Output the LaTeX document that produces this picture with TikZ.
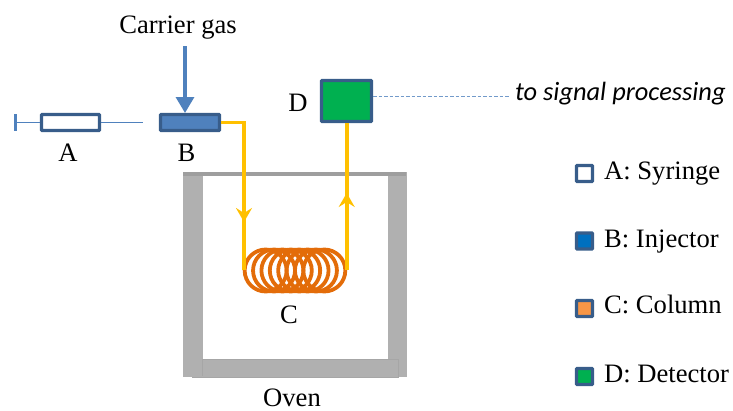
\documentclass[tikz,border=0pt]{standalone}
\usepackage{fontspec}
\setmainfont{Liberation Serif}
\newfontfamily\calibrifont{Carlito}
\usetikzlibrary{arrows.meta}
\definecolor{boxblue}{HTML}{385D8A}
\definecolor{fillblue}{HTML}{4F81BD}
\definecolor{keyblue}{HTML}{0070C0}
\definecolor{keyorange}{HTML}{F79646}
\definecolor{detectgreen}{HTML}{00B050}
\definecolor{pipeyellow}{HTML}{FFC000}
\definecolor{coilorange}{HTML}{E36C09}
\definecolor{wallgray}{HTML}{B0B0B0}
\tikzset{
	lab/.style={inner sep=0pt,anchor=base,font=\fontsize{26.6}{26.6}\selectfont,text=black},
	keylab/.style={lab,anchor=base west},
	unitbox/.style={draw=boxblue,line width=3.3pt,inner sep=0pt,rounded corners=0.8pt},
	keybox/.style={unitbox,minimum width=16pt,minimum height=16pt},
	pipe/.style={pipeyellow,line width=3.6pt},
	wall/.style={fill=wallgray,draw=black!35,line width=0.6pt},
}
\begin{document}
\begin{tikzpicture}[x=1pt,y=-1pt,>={Stealth[length=14pt,width=16pt,inset=5pt]}]
	\useasboundingbox (0,0) rectangle (733,410);
	% oven
	\draw[wall,draw=wallgray] (388,172) rectangle (406,376);
	\draw[wall] (192,359) rectangle (398,377);
	\draw[wall,draw=wallgray] (183,172) rectangle (202,376);
	\draw[black!35,line width=0.6pt] (202,359)--(202,376);
	\fill[wallgray!90!black] (183,172) rectangle (406,175.5);
	\node[lab] (oven) at (292,406) {Oven};
	% units
	\node[unitbox,fill=white,minimum width=58pt,minimum height=16pt] (syringe) at (70.5,122.5) {};
	\node[unitbox,fill=fillblue,minimum width=59pt,minimum height=16pt] (injector) at (190,122.5) {};
	\node[unitbox,fill=detectgreen,minimum width=50pt,minimum height=41pt] (detector) at (346.5,101) {};
	\node[lab] (labA) at (68,161.5) {A};
	\node[lab] (labB) at (186.5,161) {B};
	\node[lab] (labC) at (289,323) {C};
	\node[lab] (labD) at (298,111) {D};
	\node[lab] (carrier) at (178,33.5) {Carrier gas};
	\node[lab,anchor=base west,font=\calibrifont\itshape\fontsize{26.4}{26.4}\selectfont] (signal) at (515,100.7) {to signal processing};
	% syringe needle and plunger
	\coordinate (plunger) at (15,122.5);
	\coordinate (needle) at (143,122.5);
	\draw[fillblue,line width=1.2pt] (plunger)--(syringe.west) (syringe.east)--(needle);
	\draw[fillblue,line width=3pt] (15,114)--(15,130.5);
	% carrier gas
	\coordinate (gasin) at (185,46);
	\draw[-{Triangle[length=16pt,width=18pt]},fillblue,line width=3.2pt] (gasin)--(185,113);
	% signal line
	\coordinate (signalend) at (509,96.5);
	\draw[fillblue!80,line width=1pt,dash pattern=on 3.5pt off 2pt] (373,96.5)--(signalend);
	% column
	\coordinate (colin) at (244,270);
	\coordinate (colout) at (346.7,270);
	\foreach \x in {0,...,7}
		\draw[coilorange,line width=3.8pt] (265.65+\x*8.38,270.5) ellipse (21 and 21);
	% pipes
	\draw[pipe] (injector.east)-|(colin);
	\draw[pipe] (colout)--(colout|-detector.south);
	\draw[pipe,->] (244,180)--(244,222);
	\draw[pipe,->] (346.7,230)--(346.7,193);
	% legend
	\node[keybox,fill=white] (keyA) at (584.5,173.5) {};
	\node[keybox,fill=keyblue] (keyB) at (584.5,241) {};
	\node[keybox,fill=keyorange] (keyC) at (584.5,308.5) {};
	\node[keybox,fill=detectgreen] (keyD) at (584.5,376.5) {};
	\node[keylab] (textA) at (604,179) {A: Syringe};
	\node[keylab] (textB) at (604,247) {B: Injector};
	\node[keylab] (textC) at (604,313) {C: Column};
	\node[keylab] (textD) at (604,382) {D: Detector};
\end{tikzpicture}
\end{document}
